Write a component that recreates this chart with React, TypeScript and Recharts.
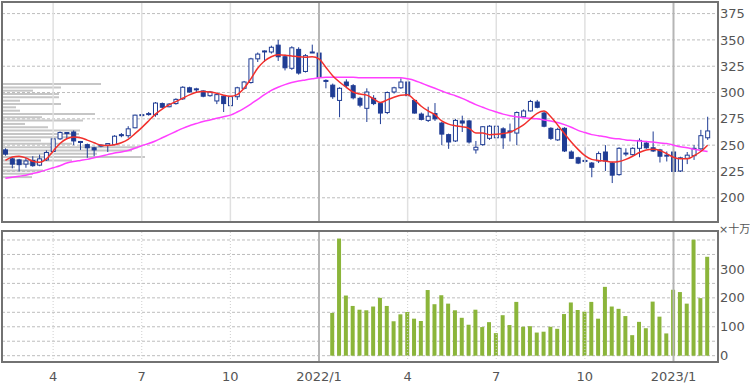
import { ComposedChart, Bar, Line, XAxis, YAxis, CartesianGrid, ReferenceLine } from "recharts";

// weekly candles, oldest first
const opens = [245.5, 237, 236, 232, 235.5, 231, 236, 244, 256, 261.5,
  262.5, 253.5, 250.5, 247.5, 249.5, 250, 250.5, 260, 259, 266.5,
  278.5, 279.5, 279, 289.5, 286.5, 289.5, 294, 304.5, 303, 301.5,
  297, 292, 296.5, 287.5, 296, 304, 309.5, 332, 339, 338.5,
  345, 334, 323, 341, 320, 338, 337.5, 311.5, 307, 292.5,
  310, 306.5, 294.5, 285, 294.5, 289.5, 281, 300.5, 304.5, 310,
  292.5, 279.5, 273.5, 280, 271, 260, 254, 273, 273, 245.5,
  250.5, 256.5, 257, 265.5, 263, 261.5, 277, 282.5, 291, 280.5,
  266, 255, 266, 243.5, 238, 235.5, 233, 235, 243.5, 233,
  222, 242, 241, 247, 252, 247.5, 245.5, 240, 243.5, 225.5,
  237.5, 240, 246.5, 257];
const highs = [247, 238, 237, 238, 239.5, 241, 245, 257, 263, 262.5,
  264, 254, 251.5, 248.5, 251, 252, 259.5, 261.5, 268, 279,
  280, 281.5, 291, 290.5, 290, 294.5, 306, 305.5, 304.5, 302,
  301.5, 299, 297.5, 297, 305.5, 311, 333, 338, 340, 344.5,
  350, 336, 344, 343, 336.5, 345.5, 339, 312.5, 308.5, 305,
  312.5, 308, 296, 304, 297.5, 290.5, 301, 305.5, 313.5, 312,
  293, 281, 286.5, 290, 272, 261, 275, 278, 274, 254,
  268, 269, 269, 267, 270.5, 282, 284, 293, 293, 282,
  267, 266.5, 267, 245, 239, 248, 234, 244, 250, 234,
  248, 247, 248, 256.5, 254, 263, 246.5, 244, 245, 239,
  243.5, 250, 264.5, 277];
const lows = [240, 228, 225, 228.5, 229.5, 230, 235, 243, 255, 256,
  250, 245.5, 238, 239.5, 248, 243.5, 250, 257.5, 257, 266,
  277, 278, 277, 285, 286, 288.5, 293, 300, 300.5, 295.5,
  296, 289, 281.5, 280, 293, 303, 308.5, 329, 329, 337,
  330, 321, 321.5, 317, 319, 337.5, 313, 304, 294, 276.5,
  304, 293.5, 286, 272, 288, 270, 279.5, 299, 303.5, 296,
  280, 273.5, 272, 273, 250, 246.5, 253, 262.5, 251.5, 242,
  249.5, 255, 254, 246.5, 253.5, 250, 276, 282, 285, 267,
  255, 254, 243.5, 237, 232, 233, 219.5, 233, 225.5, 214,
  221, 239.5, 240, 238.5, 246.5, 243.5, 233.5, 234.5, 220.5, 224.5,
  232, 236, 245.5, 255];
const closes = [241.5, 232, 231.5, 235, 230.5, 237, 243, 256, 262, 262,
  254, 253, 247.5, 245.5, 250, 251.5, 258.5, 259, 265.5, 278.5,
  279, 280, 290, 286, 289, 293.5, 305, 300.5, 303.5, 296.5,
  300.5, 298, 289.5, 296, 304.5, 310, 332, 336.5, 339.5, 343,
  334, 323.5, 342.5, 318.5, 335, 338.5, 314.5, 311, 296, 304,
  306.5, 295, 288, 300.5, 289.5, 280.5, 300, 304.5, 310, 297,
  280.5, 274.5, 277.5, 275, 260.5, 253, 273.5, 271, 253, 248,
  267.5, 268, 268, 257, 263.5, 281, 282.5, 291.5, 286, 268,
  256.5, 265, 244.5, 237.5, 233, 235, 229, 242, 235, 221.5,
  247, 242.5, 247, 254.5, 247.5, 244.5, 239.5, 240.5, 225, 238,
  240.5, 247, 259, 263.5];

// moving averages as drawn (short = red, long = magenta)
const maShort = [235.6, 238.8, 239.5, 237.9, 234.7, 233.7, 236.9, 244.3, 251.6, 256.1,
  257.7, 257.1, 254.8, 252.3, 250, 249.7, 250.4, 252.3, 255.5, 260.9,
  266.7, 273, 279.5, 284.3, 288.2, 291.4, 294.6, 297.8, 300.2, 301,
  300.5, 299.4, 297.5, 296.5, 298, 304, 313, 323, 330, 334,
  335.8, 335.5, 334.8, 334, 333.6, 334, 332, 324, 316, 310,
  305, 300.5, 298.5, 297.5, 294, 290.5, 293, 295.5, 297.5, 298,
  293, 287, 282.5, 279, 273, 270, 268.5, 267.5, 266, 261.5,
  261.5, 260, 260.3, 261, 262.2, 265.4, 269.2, 274.8, 280.2, 282.4,
  277, 269.2, 261, 253, 246, 240, 236.5, 235.5, 235, 234,
  234.5, 236.5, 239.5, 243, 245.5, 246, 245, 242, 238.5, 237,
  237, 240, 244, 250];
const maLong = [218.5, 219.5, 220.5, 221.5, 223, 224.5, 226.5, 228.5, 230.5, 233,
  234.5, 235.5, 236.5, 238, 239.5, 241, 242.5, 243.5, 245, 247,
  249.5, 251.5, 254, 257, 260, 263, 266, 268.5, 270.5, 272.5,
  274, 275.5, 277, 278.5, 281.5, 285, 289, 293.5, 298, 302,
  305, 307.5, 309.5, 311, 312, 313, 314, 314.5, 314.5, 314.5,
  314.5, 314.5, 314, 314, 314, 314, 314, 314, 314, 313,
  311.5, 309, 306.5, 304, 301.5, 299, 297, 294.5, 291.5, 288.5,
  286, 283.5, 281.5, 279.5, 278, 277, 276, 275.5, 275, 274,
  273, 271.5, 269.5, 267, 264, 262, 260, 259, 258, 256.5,
  256, 255, 254.5, 254, 253.5, 253, 252, 251.5, 250, 248.5,
  247.5, 246, 245, 244];

// volume (x十万), only the last 56 weeks have it
const volumes = [148, 405, 208, 172, 159, 157, 170, 200, 172, 119,
  143, 151, 128, 120, 227, 178, 209, 180, 157, 131,
  107, 159, 99, 116, 78, 140, 106, 186, 100, 102,
  80, 83, 100, 93, 144, 184, 158, 152, 186, 128,
  238, 170, 162, 137, 71, 117, 95, 187, 135, 77,
  228, 220, 180, 401, 199, 342];

// price-by-volume profile on the left
const profilePrices = [308.4, 305.2, 302.1, 298.9, 295.8, 292.6, 289.5, 286.3, 283.1, 280.0,
  276.8, 273.7, 270.5, 267.4, 264.2, 261.0, 257.9, 254.7, 251.6, 248.4,
  245.3, 242.1, 239.0, 235.8, 232.6, 229.5, 226.3, 223.2, 220.0];
const profileVolumes = [99, 59, 31, 57, 57, 18, 59, 14, 18, 93,
  40, 81, 23, 46, 78, 77, 78, 39, 70, 136,
  130, 95, 143, 70, 38, 13, 41, 31, 30];

const monthTicks = [7, 20, 33, 46, 59, 72, 85, 98];
const monthLabels = ["4", "7", "10", "2022/1", "4", "7", "10", "2023/1"];
const yearTicks = [46, 98];
const priceTicks = [200, 225, 250, 275, 300, 325, 350, 375];
const volumeTicks = [0, 50, 100, 150, 200, 250, 300, 350, 400];

const NAVY = "#1f3c94";
const AXIS_TEXT = { fontSize: 13, fontFamily: "DejaVu Sans, sans-serif", fill: "#555" };

const volStart = opens.length - volumes.length;
const data = opens.map((o, i) => ({
  i,
  open: o,
  high: highs[i],
  low: lows[i],
  close: closes[i],
  maShort: maShort[i],
  maLong: maLong[i],
  vol: i >= volStart ? volumes[i - volStart] : null,
}));

const profile = profilePrices.map((p, k) => ({ price: p, vol: profileVolumes[k] }));

const Candle = (props: any) => {
  const { x, y, width, height, payload } = props;
  if (!payload || height == null || isNaN(y)) return null;
  const { open, close, high, low } = payload;
  const ppu = height / (high - low);
  const cx = x + width / 2;
  const top = y + (high - Math.max(open, close)) * ppu;
  const bot = y + (high - Math.min(open, close)) * ppu;
  const up = close >= open;
  return (
    <g>
      <line x1={cx} x2={cx} y1={y} y2={y + height} stroke={NAVY} strokeWidth={1} />
      <rect
        x={x + 0.5}
        y={top}
        width={width - 1}
        height={Math.max(bot - top, 1)}
        fill={up ? "#fff" : NAVY}
        stroke={NAVY}
        strokeWidth={1}
      />
    </g>
  );
};

const abs = { position: "absolute" as const, left: 0, top: 0 };

export default function App() {
  return (
    <div style={{ position: "absolute", left: 0, top: 0, width: 750, height: 383, background: "#fff", overflow: "hidden" }}>
      {/* price-by-volume profile, behind the candles */}
      <div style={abs}>
        <ComposedChart layout="vertical" width={750} height={224} data={profile} margin={{ top: 2, right: 32, bottom: 2, left: 2 }}>
          <XAxis type="number" domain={[0, 716]} hide />
          <YAxis type="number" dataKey="price" domain={[177, 386]} hide reversed allowDataOverflow />
          <Bar dataKey="vol" fill="#c6c6c6" barSize={2} isAnimationActive={false} />
        </ComposedChart>
      </div>

      {/* candles + moving averages */}
      <div style={abs}>
        <ComposedChart width={750} height={224} data={data} margin={{ top: 2, right: 0, bottom: 2, left: 2 }}>
          <CartesianGrid vertical={false} stroke="#bdbdbd" strokeDasharray="3 2" />
          {monthTicks.map((t) => (
            <ReferenceLine
              key={t}
              x={t}
              stroke={yearTicks.includes(t) ? "#b5b5b5" : "#e0e0e0"}
              strokeWidth={yearTicks.includes(t) ? 2 : 1.5}
            />
          ))}
          <XAxis dataKey="i" type="category" hide padding={{ left: 0, right: 7 }} />
          <YAxis
            orientation="right"
            domain={[177, 386]}
            ticks={priceTicks}
            allowDataOverflow
            width={32}
            tickSize={0}
            tickMargin={2}
            axisLine={false}
            tickLine={false}
            tick={AXIS_TEXT}
          />
          <Bar dataKey={(d: any) => [d.low, d.high]} shape={<Candle />} barSize={5} isAnimationActive={false} />
          <Line type="monotone" dataKey="maLong" stroke="#ff40ff" strokeWidth={1.5} dot={false} isAnimationActive={false} />
          <Line type="monotone" dataKey="maShort" stroke="#f2302c" strokeWidth={1.5} dot={false} isAnimationActive={false} />
        </ComposedChart>
      </div>

      {/* volume pane */}
      <div style={abs}>
        <ComposedChart width={750} height={383} data={data} margin={{ top: 231, right: 0, bottom: 0, left: 2 }}>
          <CartesianGrid vertical={false} stroke="#bdbdbd" strokeDasharray="3 2" />
          {monthTicks.map((t) => (
            <ReferenceLine
              key={t}
              x={t}
              stroke={yearTicks.includes(t) ? "#b5b5b5" : "#cfcfcf"}
              strokeWidth={yearTicks.includes(t) ? 2 : 1}
              strokeDasharray={yearTicks.includes(t) ? undefined : "1 2"}
            />
          ))}
          <XAxis
            dataKey="i"
            type="category"
            ticks={monthTicks}
            interval={0}
            tickFormatter={(v: number) => monthLabels[monthTicks.indexOf(v)] ?? ""}
            height={21}
            tickSize={0}
            tickMargin={10}
            axisLine={false}
            tickLine={false}
            tick={AXIS_TEXT}
            padding={{ left: 0, right: 7 }}
          />
          <YAxis
            orientation="right"
            domain={[-21.8, 431.1]}
            ticks={volumeTicks}
            allowDataOverflow
            tickFormatter={(v: number) => (v % 100 === 0 && v < 400 ? String(v) : "")}
            width={32}
            tickSize={0}
            tickMargin={2}
            axisLine={false}
            tickLine={false}
            tick={AXIS_TEXT}
          />
          <Bar dataKey="vol" fill="#8bb53a" barSize={4} isAnimationActive={false} />
        </ComposedChart>
      </div>

      {/* pane frames */}
      <div style={{ position: "absolute", left: 1, top: 1, width: 718, height: 222, border: "2px solid #727272", boxSizing: "border-box" }} />
      <div style={{ position: "absolute", left: 1, top: 230, width: 718, height: 133, border: "2px solid #727272", boxSizing: "border-box" }} />
      <div
        style={{
          position: "absolute",
          left: 719,
          top: 222,
          fontSize: 11,
          lineHeight: "12px",
          color: "#555",
          fontFamily: "'Noto Sans CJK JP', sans-serif",
          whiteSpace: "nowrap",
        }}
      >
        <span style={{ fontFamily: "'DejaVu Sans', sans-serif" }}>×</span>十万
      </div>
    </div>
  );
}
